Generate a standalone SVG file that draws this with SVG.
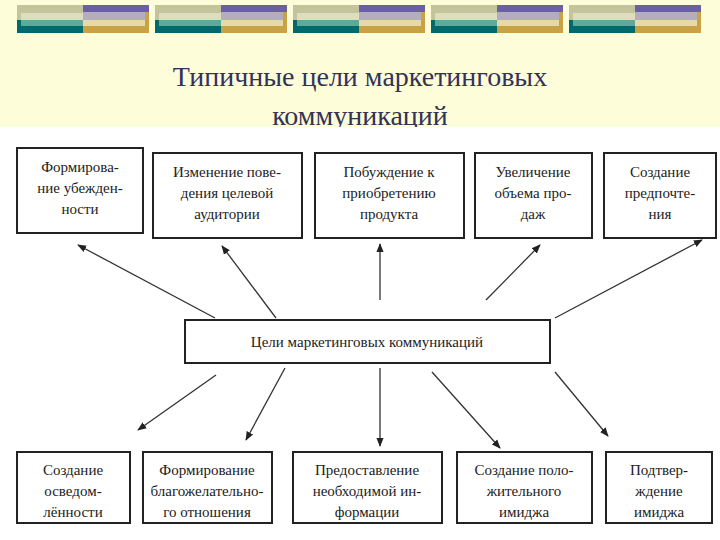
<svg xmlns="http://www.w3.org/2000/svg" width="720" height="540" viewBox="0 0 720 540">
<defs>
<g id="bar">
<rect x="0" y="0" width="66" height="15" fill="#c4c49c"/>
<rect x="4" y="8" width="62" height="7" fill="#deddbd"/>
<rect x="0" y="15" width="66" height="13" fill="#00696b"/>
<rect x="4" y="15" width="62" height="6" fill="#5ea89c"/>
<rect x="66" y="0" width="66" height="7" fill="#6b5fa6"/>
<rect x="66" y="7" width="62" height="8" fill="#b3adbd"/>
<rect x="66" y="15" width="62" height="6" fill="#e6d9a6"/>
<rect x="66" y="21" width="66" height="7" fill="#c9a246"/>
<rect x="128" y="7" width="4" height="14" fill="#c9a246"/>
</g>
<marker id="ah" viewBox="0 0 10 10" refX="9" refY="5" markerWidth="7" markerHeight="7" orient="auto"><path d="M0,1 L10,5 L0,9 Z" fill="#222"/></marker>
</defs>
<style>
.box{fill:#fff;stroke:#222;stroke-width:2}
.t{font-family:"Liberation Serif","Times New Roman","DejaVu Serif",serif;font-size:15px;fill:#222;text-anchor:middle}
.ttl{font-family:"Liberation Serif","Times New Roman","DejaVu Serif",serif;font-size:28px;fill:#333355;text-anchor:middle}
.c line{stroke:#333;stroke-width:1.3;marker-end:url(#ah)}
</style>
<rect width="720" height="540" fill="#fdfdd9"/>
<g id="bars">
<use href="#bar" x="17" y="5"/><use href="#bar" x="155" y="5"/><use href="#bar" x="293" y="5"/><use href="#bar" x="431" y="5"/><use href="#bar" x="569" y="5"/>
</g>
<g id="title">
<text class="ttl" x="360" y="86">Типичные цели маркетинговых</text>
<text class="ttl" x="360" y="125">коммуникаций</text>
</g>
<rect x="0" y="127" width="720" height="413" fill="#fff"/>
<g class="c">
<line x1="215" y1="318" x2="78" y2="245"/>
<line x1="276" y1="318" x2="222" y2="246"/>
<line x1="380" y1="300" x2="380" y2="244"/>
<line x1="486" y1="300" x2="540" y2="245"/>
<line x1="555" y1="318" x2="702" y2="240"/>
<line x1="216" y1="375" x2="138" y2="430"/>
<line x1="285" y1="368" x2="246" y2="440"/>
<line x1="380" y1="368" x2="380" y2="446"/>
<line x1="432" y1="372" x2="500" y2="448"/>
<line x1="555" y1="372" x2="608" y2="436"/>
</g>
<g id="n1"><rect class="box" x="17" y="148" width="126" height="85"/><text class="t" x="80" y="172">Формирова-</text><text class="t" x="80" y="193">ние убежден-</text><text class="t" x="80" y="214">ности</text></g>
<g id="n2"><rect class="box" x="153" y="153" width="149" height="85"/><text class="t" x="227" y="177">Изменение пове-</text><text class="t" x="227" y="198">дения целевой</text><text class="t" x="227" y="219">аудитории</text></g>
<g id="n3"><rect class="box" x="315" y="153" width="149" height="85"/><text class="t" x="389" y="177">Побуждение к</text><text class="t" x="389" y="198">приобретению</text><text class="t" x="389" y="219">продукта</text></g>
<g id="n4"><rect class="box" x="475" y="153" width="117" height="85"/><text class="t" x="533" y="177">Увеличение</text><text class="t" x="533" y="198">объема про-</text><text class="t" x="533" y="219">даж</text></g>
<g id="n5"><rect class="box" x="604" y="153" width="112" height="85"/><text class="t" x="660" y="177">Создание</text><text class="t" x="660" y="198">предпочте-</text><text class="t" x="660" y="219">ния</text></g>
<g id="center"><rect class="box" x="185" y="320" width="365" height="43"/><text class="t" x="367" y="347">Цели маркетинговых коммуникаций</text></g>
<g id="b1"><rect class="box" x="17" y="452" width="113" height="71"/><text class="t" x="73" y="475">Создание</text><text class="t" x="73" y="496">осведом-</text><text class="t" x="73" y="517">лённости</text></g>
<g id="b2"><rect class="box" x="143" y="452" width="129" height="71"/><text class="t" x="207" y="475">Формирование</text><text class="t" x="207" y="496">благожелательно-</text><text class="t" x="207" y="517">го отношения</text></g>
<g id="b3"><rect class="box" x="293" y="452" width="149" height="71"/><text class="t" x="367" y="475">Предоставление</text><text class="t" x="367" y="496">необходимой ин-</text><text class="t" x="367" y="517">формации</text></g>
<g id="b4"><rect class="box" x="457" y="452" width="135" height="71"/><text class="t" x="524" y="475">Создание поло-</text><text class="t" x="524" y="496">жительного</text><text class="t" x="524" y="517">имиджа</text></g>
<g id="b5"><rect class="box" x="606" y="452" width="106" height="71"/><text class="t" x="659" y="475">Подтвер-</text><text class="t" x="659" y="496">ждение</text><text class="t" x="659" y="517">имиджа</text></g>
</svg>
